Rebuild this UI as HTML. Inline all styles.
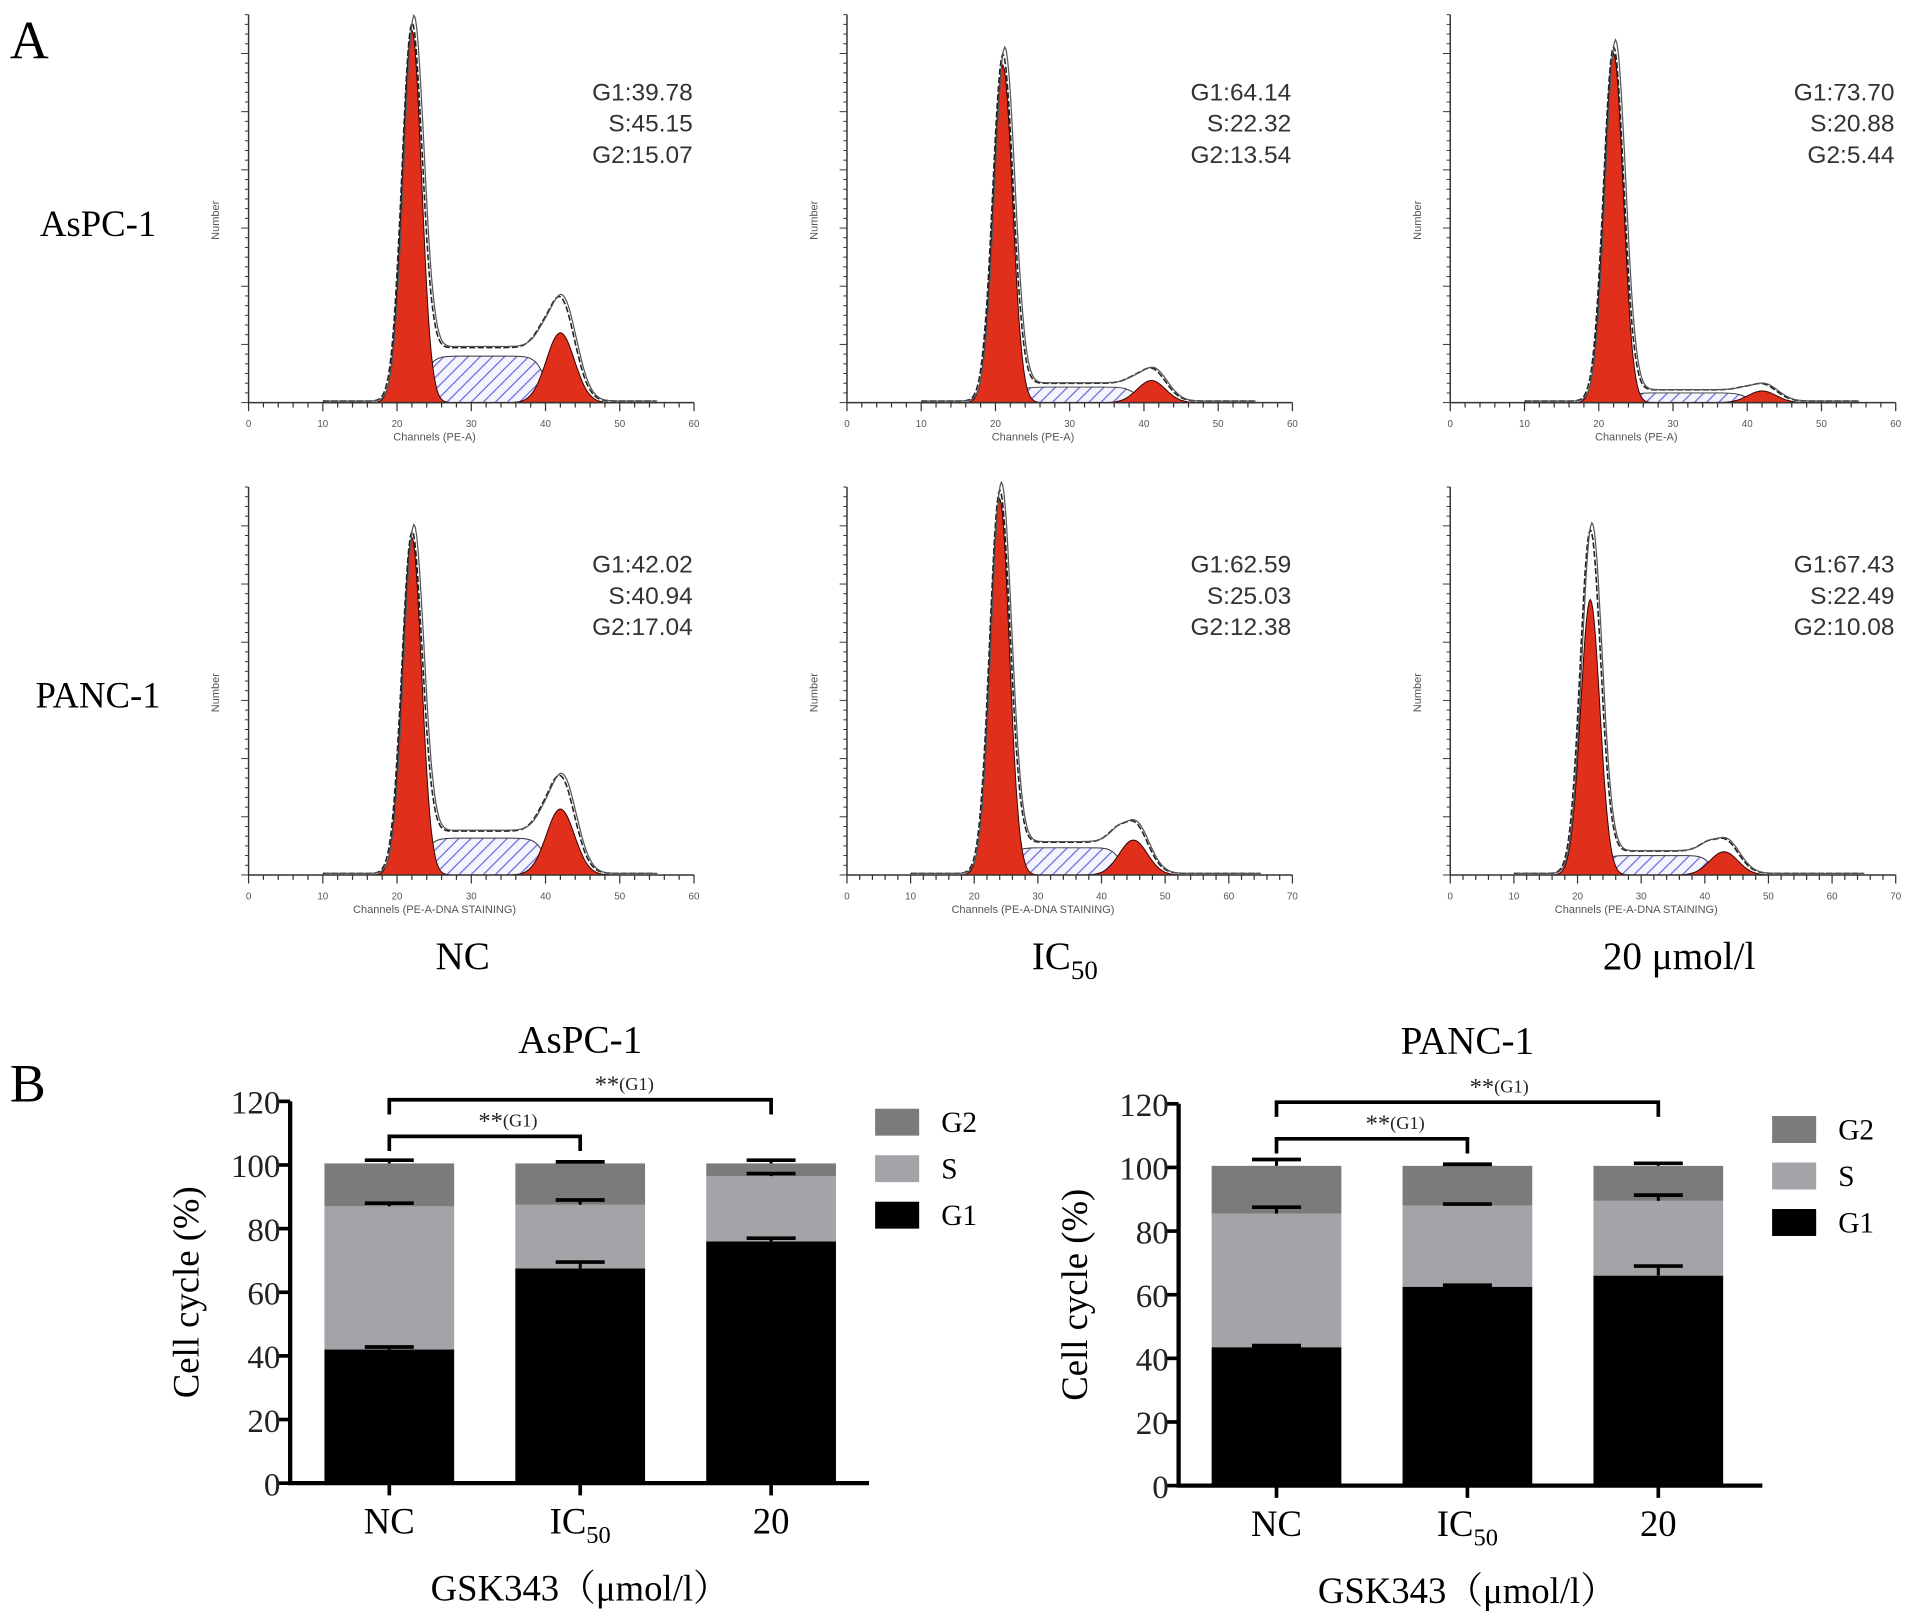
<!DOCTYPE html>
<html><head><meta charset="utf-8"><style>
html,body{margin:0;padding:0;background:#fff;}
svg{display:block;}
</style></head><body>
<svg id="fig" xmlns="http://www.w3.org/2000/svg" width="1913" height="1619" viewBox="0 0 1563 1323">
<defs>
<pattern id="hatch" patternUnits="userSpaceOnUse" width="7" height="7" patternTransform="rotate(45)">
<rect width="7" height="7" fill="#f4f4ff"/><line x1="0" y1="0" x2="0" y2="7" stroke="#6a6ad8" stroke-width="2"/>
</pattern>
</defs>
<g id="hist"></g>
<g id="bars"></g>
<text x="8" y="48" font-family="Liberation Serif, serif" font-size="44">A</text>
<text x="8" y="900" font-family="Liberation Serif, serif" font-size="44">B</text>
<text x="80" y="193" text-anchor="middle" font-family="Liberation Serif, serif" font-size="30">AsPC-1</text>
<text x="80" y="578" text-anchor="middle" font-family="Liberation Serif, serif" font-size="30">PANC-1</text>
<text x="378" y="792" text-anchor="middle" font-family="Liberation Serif, serif" font-size="32">NC</text>
<text x="870" y="792" text-anchor="middle" font-family="Liberation Serif, serif" font-size="32">IC<tspan font-size="22" dy="8">50</tspan></text>
<text x="1372" y="792" text-anchor="middle" font-family="Liberation Serif, serif" font-size="32">20 μmol/l</text>
</svg>
<script>
const NS='http://www.w3.org/2000/svg';
// ---------- Histogram data ----------
const histChannelsMax=[60,60,60,60,70,70];
const histG1Center=[22,21,22,22,24,22];
const histG1Height=[0.96,0.87,0.90,0.87,0.97,0.71];
const histG2Center=[42,41,42,42,45,43];
const histG2Height=[0.18,0.057,0.03,0.17,0.09,0.06];
const histSLevel=[0.12,0.04,0.025,0.095,0.07,0.05];
const histEnvPeak=[0.96,0.89,0.91,0.87,0.98,0.88];
const histStatsG1=['39.78','64.14','73.70','42.02','62.59','67.43'];
const histStatsS=['45.15','22.32','20.88','40.94','25.03','22.49'];
const histStatsG2=['15.07','13.54','5.44','17.04','12.38','10.08'];
const histXTitle=['Channels (PE-A)','Channels (PE-A)','Channels (PE-A)','Channels (PE-A-DNA STAINING)','Channels (PE-A-DNA STAINING)','Channels (PE-A-DNA STAINING)'];
const histLeft=[203,692,1185,203,692,1185];
const histBase=[329,329,329,715,715,715];
const histW=364, histH=317;

function mk(tag,attrs,parent){const e=document.createElementNS(NS,tag);for(const k in attrs)e.setAttribute(k,attrs[k]);if(parent)parent.appendChild(e);return e;}
const hg=document.getElementById('hist');
for(let i=0;i<6;i++){
  const g=mk('g',{},hg);
  
  
  const L=histLeft[i],B=histBase[i],M=histChannelsMax[i];
  const sx=c=>L+c/M*histW, sy=v=>B-v*histH;
  const sig1=1.3*M/60, sig2=1.9*M/60;
  const g1=c=>histG1Height[i]*Math.exp(-0.5*((c-histG1Center[i])/sig1)**2);
  const g2=c=>histG2Height[i]*Math.exp(-0.5*((c-histG2Center[i])/sig2)**2);
  const sg=(c)=>histSLevel[i]/(1+Math.exp(-(c-histG1Center[i]-1.5)/0.7))/(1+Math.exp((c-histG2Center[i]+2)/0.7));
  function pathOf(f,shift){let d='';for(let c=10;c<=M-5;c+=0.2){d+=(d?'L':'M')+sx(c+(shift||0)).toFixed(1)+','+sy(f(c)).toFixed(1);}return d;}
  function areaOf(f){return pathOf(f)+'L'+sx(M-5)+','+B+'L'+sx(10)+','+B+'Z';}
  const sp=mk('path',{d:areaOf(sg),fill:'url(#hatch)',stroke:'#333','stroke-width':0.8},g);
  
  const r1=mk('path',{d:areaOf(g1),fill:'#e0301c',stroke:'#300','stroke-width':0.8},g);
  
  const r2=mk('path',{d:areaOf(g2),fill:'#e0301c',stroke:'#300','stroke-width':0.8},g);
  
  const env=c=>histEnvPeak[i]*Math.exp(-0.5*((c-histG1Center[i])/(sig1*1.05))**2)+sg(c)*1.15+g2(c)*1.45+0.004;
  const e1=mk('path',{d:pathOf(env),fill:'none',stroke:'#222','stroke-width':1.3,'stroke-dasharray':'5,2'},g);
  
  const e2=mk('path',{d:pathOf(c=>env(c)*1.02,0.25),fill:'none',stroke:'#555','stroke-width':1},g);
  
  mk('line',{x1:L,y1:B,x2:L+histW,y2:B,stroke:'#333','stroke-width':1.2},g);
  mk('line',{x1:L,y1:B,x2:L,y2:B-histH,stroke:'#333','stroke-width':1.2},g);
  for(let c=0;c<=M;c+=2){mk('line',{x1:sx(c),y1:B,x2:sx(c),y2:B+(c%10?4:7),stroke:'#333','stroke-width':1},g);}
  for(let c=0;c<=M;c+=10){const t=mk('text',{x:sx(c),y:B+20,'text-anchor':'middle','font-size':8,fill:'#555','font-family':'Liberation Sans, sans-serif'},g);t.textContent=c;}
  for(let k=0;k<=40;k++){const y=B-k*histH/40;mk('line',{x1:L-(k%6?3:6),y1:y,x2:L,y2:y,stroke:'#333','stroke-width':0.8},g);}
  const xt=mk('text',{x:L+histW/2-30,y:B+31,'text-anchor':'middle','font-size':9,fill:'#555','font-family':'Liberation Sans, sans-serif'},g);xt.textContent=histXTitle[i];
  
  const yt=mk('text',{x:0,y:0,'text-anchor':'middle','font-size':9,fill:'#555','font-family':'Liberation Sans, sans-serif',transform:`translate(${L-24},${B-histH*0.47}) rotate(-90)`},g);yt.textContent='Number';
  
  const st=[ 'G1:'+histStatsG1[i],'S:'+histStatsS[i],'G2:'+histStatsG2[i]];
  st.forEach((s,j)=>{const t=mk('text',{x:L+363,y:B-247+j*25.5,'text-anchor':'end','font-size':20,fill:'#333','font-family':'Liberation Sans, sans-serif'},g);t.textContent=s;
    });
}

// ---------- Bar chart data ----------
const barCategories=['NC','IC50','20'];
const aspcG1=[42,67.5,76];
const aspcS=[45,20,20.5];
const aspcG2=[13.5,13,4];
const aspcG1Err=[0.8,2,1];
const aspcSErr=[1,1.5,0.8];
const aspcTotErr=[1,0.5,1];
const pancG1=[43.5,62.5,66];
const pancS=[42,25.5,23.5];
const pancG2=[15,12.5,11];
const pancG1Err=[0.5,0.5,3];
const pancSErr=[2,0.5,1.8];
const pancTotErr=[2,0.5,0.8];
const yTicks=[0,20,40,60,80,100,120];

const bg=document.getElementById('bars');
function barChart(opt){
  const g=mk('g',{},bg);
  
  
  const X0=opt.x0,Y0=opt.y0,ppu=opt.ppu,xEnd=opt.xEnd;
  const y=v=>Y0-v*ppu, x=i=>opt.cx0+i*opt.step, bw=106;
  const F='Liberation Serif, serif';
  for(let i=0;i<3;i++){
    const a=opt.g1[i],b=a+opt.s[i],c=b+opt.g2[i];
    const r1=mk('rect',{x:x(i)-bw/2,y:y(a),width:bw,height:y(0)-y(a),fill:'#000'},g);
    
    const r2=mk('rect',{x:x(i)-bw/2,y:y(b),width:bw,height:y(a)-y(b),fill:'#a3a3a8'},g);
    
    const r3=mk('rect',{x:x(i)-bw/2,y:y(c),width:bw,height:y(b)-y(c),fill:'#7b7b7b'},g);
    
    [[a,opt.g1e[i]],[b,opt.se[i]],[c,opt.te[i]]].forEach(([v,e])=>{
      mk('line',{x1:x(i),y1:y(v),x2:x(i),y2:y(v+e),stroke:'#000','stroke-width':2.5},g);
      const eb=mk('line',{x1:x(i)-20,y1:y(v+e),x2:x(i)+20,y2:y(v+e),stroke:'#000','stroke-width':3},g);
      
    });
    mk('line',{x1:x(i),y1:Y0,x2:x(i),y2:Y0+10,stroke:'#000','stroke-width':3},g);
    const lab=mk('text',{x:x(i),y:Y0+41,'text-anchor':'middle','font-size':30,'font-family':F},g);
    if(barCategories[i]==='IC50'){lab.textContent='IC';const ts=mk('tspan',{'font-size':20,dy:8},lab);ts.textContent='50';}else lab.textContent=barCategories[i];
    
  }
  const ax=mk('path',{d:`M${X0},${y(120)}V${Y0}H${xEnd}`,fill:'none',stroke:'#000','stroke-width':3.5},g);
  
  yTicks.forEach(v=>{mk('line',{x1:X0-10,y1:y(v),x2:X0,y2:y(v),stroke:'#000','stroke-width':3},g);
    const t=mk('text',{x:X0-8,y:y(v)+10,'text-anchor':'end','font-size':27,'font-family':F,fill:'#222'},g);t.textContent=v;
    });
  const tt=mk('text',{x:x(1),y:opt.titleY,'text-anchor':'middle','font-size':32,'font-family':F},g);tt.textContent=opt.title;
  
  const yl=mk('text',{'text-anchor':'middle','font-size':30,'font-family':F,transform:`translate(${X0-75},${y(60)}) rotate(-90)`},g);yl.textContent='Cell cycle (%)';
  
  const xl=mk('text',{x:x(1),y:Y0+96,'text-anchor':'middle','font-size':30,'font-family':'Liberation Serif, "Noto Serif CJK SC", serif'},g);xl.textContent='GSK343（μmol/l）';
  
  [[1,opt.b1,opt.b1t],[2,opt.b2,opt.b2t]].forEach(([j,v,tx])=>{
    const br=mk('path',{d:`M${x(0)},${y(v)+12}V${y(v)}H${x(j)}V${y(v)+12}`,fill:'none',stroke:'#000','stroke-width':3},g);
    
    const t=mk('text',{x:tx,y:y(v)-6,'text-anchor':'middle','font-size':20,'font-family':F,fill:'#222'},g);t.textContent='**';
    const t2=mk('tspan',{'font-size':15,dy:-2},t);t2.textContent='(G1)';
    
  });
  [['G2','#7b7b7b'],['S','#a3a3a8'],['G1','#000']].forEach(([n,c],k)=>{
    const r=mk('rect',{x:opt.legX,y:opt.legY+k*38,width:36,height:22,fill:c},g);
    
    const t=mk('text',{x:opt.legX+54,y:opt.legY+k*38+19,'font-size':24,'font-family':F},g);t.textContent=n;
    
  });
}
barChart({name:'aspc1-bar-chart',x0:237,y0:1212,ppu:2.6,xEnd:710,cx0:318,step:156,g1:aspcG1,s:aspcS,g2:aspcG2,g1e:aspcG1Err,se:aspcSErr,te:aspcTotErr,title:'AsPC-1',titleY:860,b1:109,b1t:415,b2:120.5,b2t:510,legX:715,legY:906});
barChart({name:'panc1-bar-chart',x0:963,y0:1214,ppu:2.6,xEnd:1440,cx0:1043,step:156,g1:pancG1,s:pancS,g2:pancG2,g1e:pancG1Err,se:pancSErr,te:pancTotErr,title:'PANC-1',titleY:861,b1:109,b1t:1140,b2:120.5,b2t:1225,legX:1448,legY:912});
</script>
</body></html>
